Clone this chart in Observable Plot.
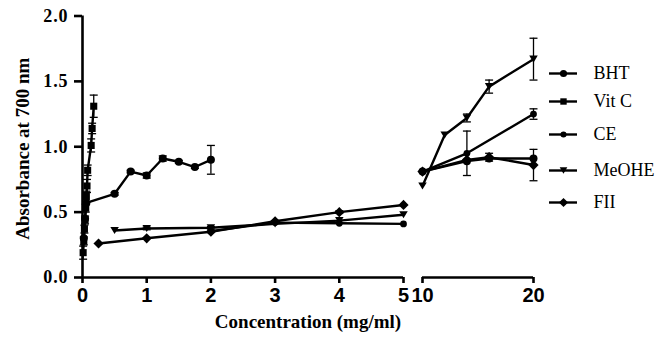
<!DOCTYPE html>
<html><head><meta charset="utf-8">
<script src="https://cdn.jsdelivr.net/npm/d3@7"></script>
<script src="https://cdn.jsdelivr.net/npm/@observablehq/plot@0.6"></script>
<style>
body{margin:0;background:#fff;}
#wrap{position:relative;width:662px;height:338px;overflow:hidden;}
#legend{position:absolute;left:540px;top:0;}
g[aria-label="y-axis tick label"] text{letter-spacing:0.9px;}
</style></head><body><div id="wrap"><div id="chart"></div><div id="legend"></div></div>
<script>
// ---- data ----
const seriesNames = ["BHT", "Vit C", "CE", "MeOHE", "FII"];
const xTicks = [0, 1, 2, 3, 4, 5, 10, 20];
const yTicks = [0, 0.5, 1.0, 1.5, 2.0];
const axisSegments = [[0, 5], [10, 20]];

const bhtX   = [0.02, 0.04, 0.06, 0.5, 0.75, 1, 1.25, 1.5, 1.75, 2];
const bhtY   = [0.30, 0.45, 0.57, 0.64, 0.81, 0.78, 0.91, 0.885, 0.845, 0.90];
const bhtE   = [0, 0, 0, 0.01, 0.01, 0.02, 0.02, 0.01, 0.01, 0.11];
const bht2X  = [10, 14, 16, 20];
const bht2Y  = [0.81, 0.89, 0.91, 0.91];
const bht2E  = [0, 0, 0, 0];

const vitcX  = [0.01, 0.02, 0.03, 0.04, 0.05, 0.06, 0.07, 0.08, 0.135, 0.15, 0.175];
const vitcY  = [0.19, 0.28, 0.37, 0.44, 0.53, 0.62, 0.70, 0.82, 1.01, 1.14, 1.31];
const vitcE  = [0.05, 0.03, 0.03, 0.03, 0.03, 0.04, 0.05, 0.04, 0.05, 0.04, 0.085];

const ceX    = [2, 3, 4, 5];
const ceY    = [0.355, 0.42, 0.415, 0.41];
const ceE    = [0, 0, 0, 0];
const ce2X   = [10, 14, 20];
const ce2Y   = [0.81, 0.95, 1.25];
const ce2E   = [0, 0.17, 0.04];

const meoX   = [0.5, 1, 2, 3, 4, 5];
const meoY   = [0.36, 0.375, 0.38, 0.41, 0.435, 0.48];
const meoE   = [0, 0.01, 0.01, 0, 0, 0];
const meo2X  = [10, 12, 14, 16, 20];
const meo2Y  = [0.70, 1.09, 1.22, 1.46, 1.67];
const meo2E  = [0, 0, 0.03, 0.05, 0.16];

const fiiX   = [0.25, 1, 2, 3, 4, 5];
const fiiY   = [0.26, 0.30, 0.35, 0.43, 0.50, 0.555];
const fiiE   = [0, 0, 0, 0, 0.01, 0];
const fii2X  = [10, 14, 16, 20];
const fii2Y  = [0.81, 0.90, 0.92, 0.86];
const fii2E  = [0, 0, 0.03, 0.12];

// ---- build rows ----
function rows(series, seg, xs, ys, es) {
  return xs.map((x, i) => ({series, seg, x, y: ys[i], err: es[i]}));
}
const data = [
  ...rows("BHT", 1, bhtX, bhtY, bhtE),
  ...rows("BHT", 2, bht2X, bht2Y, bht2E),
  ...rows("Vit C", 1, vitcX, vitcY, vitcE),
  ...rows("CE", 1, ceX, ceY, ceE),
  ...rows("CE", 2, ce2X, ce2Y, ce2E),
  ...rows("MeOHE", 1, meoX, meoY, meoE),
  ...rows("MeOHE", 2, meo2X, meo2Y, meo2E),
  ...rows("FII", 1, fiiX, fiiY, fiiE),
  ...rows("FII", 2, fii2X, fii2Y, fii2E)
];

// ---- symbols ----
const triDown = {
  draw(ctx, size) {
    const s = Math.sqrt(size), w = s * 1.2, h = s * 1.0;
    ctx.moveTo(-w / 2, -h / 2); ctx.lineTo(w / 2, -h / 2); ctx.lineTo(0, h / 2); ctx.closePath();
  }
};
const hline = {
  draw(ctx, size) {
    const w = Math.sqrt(size);
    ctx.moveTo(-w / 2, 0); ctx.lineTo(w / 2, 0);
  }
};
const symbolOf = {
  "BHT": {symbol: d3.symbolCircle, r: 4},
  "Vit C": {symbol: d3.symbolSquare, r: 4},
  "CE": {symbol: d3.symbolCircle, r: 3.4},
  "MeOHE": {symbol: triDown, r: 4},
  "FII": {symbol: d3.symbolDiamond2, r: 4.6}
};

const serif = "'Liberation Serif','Times New Roman',serif";
const narrow = "'Liberation Sans Narrow','Arial Narrow','Liberation Sans',sans-serif";

const dotMarks = seriesNames.map(name => Plot.dot(data.filter(d => d.series === name), {
  x: "x", y: "y", symbol: symbolOf[name].symbol, r: symbolOf[name].r, fill: "black", stroke: "none"
}));
const errRows = data.filter(d => d.err > 0);

const chart = Plot.plot({
  width: 662,
  height: 338,
  marginLeft: 82,
  marginRight: 129,
  marginTop: 15.5,
  marginBottom: 61,
  style: {background: "white", color: "black"},
  x: {type: "linear", domain: [0, 5, 10, 20], range: [82, 403, 422, 533]},
  y: {type: "linear", domain: [0, 2], range: [277, 15.5]},
  marks: [
    Plot.ruleX([0], {y1: 0, y2: 2, strokeWidth: 2.6, stroke: "black"}),
    Plot.ruleY(axisSegments, {y: 0, x1: d => d[0], x2: d => d[1], strokeWidth: 2.6, stroke: "black"}),
    Plot.axisY({ticks: yTicks, tickFormat: d3.format(".1f"), tickSize: 8, tickPadding: 6, strokeWidth: 2.6,
      fontSize: 18, fontFamily: serif, fontWeight: "bold", label: null}),
    Plot.axisX({ticks: xTicks, tickFormat: d => String(d), tickSize: 6, tickPadding: 4, strokeWidth: 2.6,
      fontSize: 20, fontFamily: narrow, fontWeight: "bold", label: null}),
    Plot.text(["Concentration (mg/ml)"], {frameAnchor: "bottom", lineAnchor: "bottom", dy: 50,
      fontSize: 19, fontFamily: serif, fontWeight: "bold"}),
    Plot.text(["Absorbance at 700 nm"], {frameAnchor: "left", textAnchor: "middle", lineAnchor: "bottom",
      rotate: -90, dx: -54, dy: 2, fontSize: 19, fontFamily: serif, fontWeight: "bold"}),
    Plot.ruleX(errRows, {x: "x", y1: d => d.y - d.err, y2: d => d.y + d.err, strokeWidth: 1.3, stroke: "black"}),
    Plot.dot(errRows, {x: "x", y: d => d.y - d.err, symbol: hline, r: 4.5, stroke: "black", strokeWidth: 1.3, fill: "none"}),
    Plot.dot(errRows, {x: "x", y: d => d.y + d.err, symbol: hline, r: 4.5, stroke: "black", strokeWidth: 1.3, fill: "none"}),
    Plot.line(data, {x: "x", y: "y", z: d => d.series + d.seg, sort: "x", stroke: "black", strokeWidth: 2.4}),
    ...dotMarks
  ]
});
document.getElementById("chart").appendChild(chart);

// ---- legend ----
const legendRows = seriesNames.map((name, i) => ({name, i}));
const legend = Plot.plot({
  width: 122,
  height: 338,
  margin: 0,
  style: {background: "transparent", color: "black", overflow: "visible"},
  x: {type: "linear", domain: [0, 1], range: [9, 37], axis: null},
  y: {type: "linear", domain: [0, 1, 2, 3, 4], range: [73, 101, 134, 170, 202], axis: null},
  marks: [
    Plot.ruleY(legendRows, {y: "i", x1: 0, x2: 1, stroke: "black", strokeWidth: 2.4}),
    ...legendRows.map(d => Plot.dot([d], {x: 0.5, y: "i", symbol: symbolOf[d.name].symbol,
      r: symbolOf[d.name].r * 0.9, fill: "black", stroke: "none"})),
    Plot.text(legendRows, {x: 1, y: "i", text: "name", dx: 16, textAnchor: "start",
      fontSize: 18, fontFamily: serif})
  ]
});
document.getElementById("legend").appendChild(legend);
</script>
</body></html>
